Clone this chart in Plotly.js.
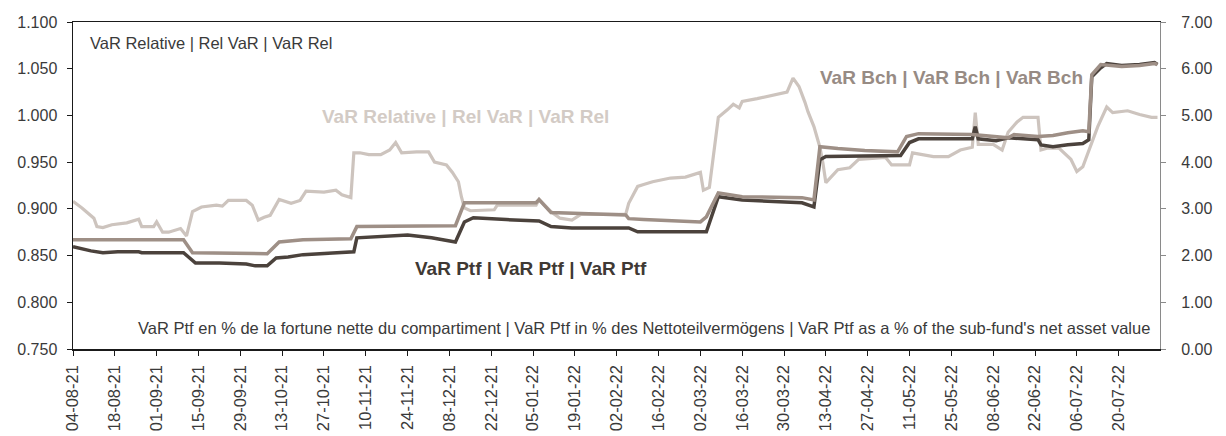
<!DOCTYPE html>
<html>
<head>
<meta charset="utf-8">
<script src="https://cdn.plot.ly/plotly-3.0.1.min.js"></script>
<style>
html,body{margin:0;padding:0;background:#fff;}
#chart{width:1226px;height:436px;}
</style>
</head>
<body>
<div id="chart"></div>
<script>
// VaR Relative (left axis)
const relDates = ["2021-08-04","2021-08-07","2021-08-11","2021-08-12","2021-08-14","2021-08-17","2021-08-22","2021-08-26","2021-08-27","2021-08-31","2021-09-01","2021-09-03","2021-09-05","2021-09-09","2021-09-11","2021-09-13","2021-09-16","2021-09-21","2021-09-23","2021-09-25","2021-10-01","2021-10-03","2021-10-05","2021-10-07","2021-10-09","2021-10-12","2021-10-16","2021-10-19","2021-10-21","2021-10-27","2021-10-31","2021-11-02","2021-11-05","2021-11-06","2021-11-08","2021-11-11","2021-11-15","2021-11-18","2021-11-20","2021-11-22","2021-11-27","2021-12-01","2021-12-03","2021-12-07","2021-12-09","2021-12-11","2021-12-12","2021-12-13","2021-12-15","2021-12-23","2021-12-24","2022-01-06","2022-01-07","2022-01-11","2022-01-14","2022-01-18","2022-01-21","2022-02-05","2022-02-06","2022-02-09","2022-02-11","2022-02-14","2022-02-20","2022-02-25","2022-03-02","2022-03-03","2022-03-05","2022-03-08","2022-03-11","2022-03-13","2022-03-15","2022-03-16","2022-03-21","2022-03-24","2022-03-29","2022-03-31","2022-04-02","2022-04-04","2022-04-06","2022-04-07","2022-04-09","2022-04-11","2022-04-12","2022-04-13","2022-04-17","2022-04-21","2022-04-24","2022-05-03","2022-05-05","2022-05-11","2022-05-12","2022-05-19","2022-05-24","2022-05-28","2022-06-01","2022-06-02","2022-06-03","2022-06-08","2022-06-11","2022-06-13","2022-06-16","2022-06-18","2022-06-23","2022-06-24","2022-06-26","2022-06-30","2022-07-04","2022-07-06","2022-07-08","2022-07-10","2022-07-13","2022-07-16","2022-07-18","2022-07-23","2022-07-27","2022-07-31","2022-08-02"];
const relValues = [0.908,0.901,0.890,0.881,0.880,0.883,0.885,0.889,0.881,0.881,0.886,0.875,0.875,0.879,0.871,0.897,0.902,0.904,0.903,0.909,0.909,0.904,0.888,0.891,0.893,0.910,0.906,0.909,0.919,0.918,0.920,0.915,0.912,0.960,0.960,0.958,0.958,0.963,0.971,0.960,0.961,0.961,0.950,0.947,0.939,0.929,0.913,0.901,0.898,0.899,0.904,0.904,0.910,0.897,0.890,0.888,0.894,0.894,0.906,0.924,0.926,0.929,0.933,0.934,0.939,0.920,0.923,0.998,1.006,1.012,1.008,1.015,1.018,1.020,1.024,1.025,1.040,1.031,1.014,1.004,0.988,0.966,0.949,0.928,0.942,0.944,0.953,0.955,0.947,0.947,0.960,0.956,0.956,0.963,0.966,1.003,0.969,0.969,0.963,0.982,0.993,0.998,0.998,0.963,0.965,0.965,0.953,0.940,0.945,0.963,0.988,1.009,1.003,1.005,1.001,0.998,0.998];

// VaR Ptf (right axis, %)
const ptfDates = ["2021-08-04","2021-08-10","2021-08-14","2021-08-19","2021-08-26","2021-08-27","2021-09-10","2021-09-14","2021-09-22","2021-10-01","2021-10-04","2021-10-08","2021-10-11","2021-10-15","2021-10-20","2021-11-05","2021-11-06","2021-11-07","2021-11-13","2021-11-24","2021-12-02","2021-12-10","2021-12-13","2021-12-16","2021-12-27","2022-01-07","2022-01-11","2022-01-18","2022-02-06","2022-02-09","2022-03-04","2022-03-08","2022-03-16","2022-03-28","2022-04-05","2022-04-09","2022-04-11","2022-04-13","2022-05-08","2022-05-11","2022-05-14","2022-06-01","2022-06-02","2022-06-03","2022-06-09","2022-06-13","2022-06-23","2022-06-24","2022-06-28","2022-07-03","2022-07-08","2022-07-10","2022-07-11","2022-07-14","2022-07-16","2022-07-21","2022-07-27","2022-08-01","2022-08-02"];
const ptfValues = [2.19,2.10,2.06,2.08,2.08,2.06,2.06,1.84,1.84,1.82,1.78,1.78,1.95,1.97,2.02,2.06,2.08,2.38,2.40,2.44,2.38,2.29,2.72,2.81,2.77,2.74,2.62,2.59,2.59,2.51,2.51,3.26,3.19,3.15,3.13,3.04,4.05,4.12,4.14,4.42,4.50,4.50,4.76,4.50,4.46,4.52,4.48,4.37,4.33,4.37,4.40,4.48,5.83,6.02,6.11,6.07,6.09,6.13,6.09];

// VaR Bch (right axis, %)
const bchDates = ["2021-08-04","2021-09-10","2021-09-13","2021-10-08","2021-10-12","2021-10-20","2021-11-05","2021-11-07","2021-12-10","2021-12-13","2022-01-06","2022-01-07","2022-01-11","2022-02-03","2022-02-05","2022-02-06","2022-02-11","2022-03-02","2022-03-04","2022-03-08","2022-03-16","2022-04-05","2022-04-09","2022-04-11","2022-04-17","2022-04-26","2022-05-07","2022-05-10","2022-05-14","2022-06-01","2022-06-09","2022-06-13","2022-06-15","2022-06-23","2022-06-28","2022-07-03","2022-07-08","2022-07-10","2022-07-11","2022-07-14","2022-07-21","2022-07-27","2022-08-01","2022-08-02"];
const bchValues = [2.34,2.34,2.06,2.04,2.29,2.34,2.36,2.62,2.64,3.13,3.13,3.20,2.92,2.87,2.87,2.79,2.77,2.72,2.83,3.34,3.26,3.24,3.19,4.33,4.29,4.25,4.22,4.55,4.61,4.59,4.55,4.52,4.59,4.55,4.57,4.63,4.67,4.65,5.87,6.09,6.05,6.07,6.11,6.09];

const leftTicks = [0.75,0.80,0.85,0.90,0.95,1.00,1.05,1.10];
const rightTicks = [0,1,2,3,4,5,6,7];

const labelRel = "VaR Relative | Rel VaR | VaR Rel";
const labelBch = "VaR Bch | VaR Bch | VaR Bch";
const labelPtf = "VaR Ptf | VaR Ptf | VaR Ptf";
const labelNote = "VaR Ptf en % de la fortune nette du compartiment | VaR Ptf in % des Nettoteilvermögens | VaR Ptf as a % of the sub-fund's net asset value";

const FONT = "Liberation Sans, Arial, sans-serif";
const xRange = ["2021-08-04", "2022-08-02 20:00"];
const DAY = 86400000;

const traces = [
  {x: relDates, y: relValues, type: "scatter", mode: "lines", yaxis: "y",
   line: {color: "#cdc4be", width: 3.2}, hoverinfo: "skip"},
  {x: ptfDates, y: ptfValues, type: "scatter", mode: "lines", yaxis: "y2",
   line: {color: "#4b423c", width: 3.5}, hoverinfo: "skip"},
  {x: bchDates, y: bchValues, type: "scatter", mode: "lines", yaxis: "y2",
   line: {color: "#9e8f86", width: 3.5}, hoverinfo: "skip"}
];

const layout = {
  width: 1226, height: 436,
  margin: {l: 73, r: 66, t: 22, b: 87, pad: 0},
  paper_bgcolor: "#ffffff", plot_bgcolor: "#ffffff",
  showlegend: false,
  font: {family: FONT, size: 16, color: "#3a3a3a"},
  xaxis: {
    type: "date", range: xRange, tick0: "2021-08-04", dtick: 14 * DAY,
    tickformat: "%d-%m-%y", tickangle: -90,
    showgrid: false, zeroline: false,
    showline: true, linecolor: "#1a1a1a", linewidth: 1.5, mirror: true,
    ticks: "outside", ticklen: 5, tickcolor: "#1a1a1a", tickwidth: 1,
    ticklabelstandoff: 3,
    tickfont: {family: FONT, size: 16.5, color: "#3a3a3a"}
  },
  xaxis2: {
    type: "date", range: xRange, tick0: "2021-08-04", dtick: 14 * DAY,
    overlaying: "x", anchor: "y", showticklabels: false,
    showgrid: false, zeroline: false, showline: false,
    ticks: "inside", ticklen: 5, tickcolor: "#1a1a1a", tickwidth: 1
  },
  yaxis: {
    range: [0.75, 1.10], tickvals: leftTicks, tickformat: ".3f",
    showgrid: false, zeroline: false,
    showline: true, linecolor: "#1a1a1a", linewidth: 1.5,
    ticks: "outside", ticklen: 5, tickcolor: "#1a1a1a", tickwidth: 1,
    ticklabelstandoff: 6,
    tickfont: {family: FONT, size: 16, color: "#3a3a3a"}
  },
  yaxis3: {
    range: [0.75, 1.10], tickvals: leftTicks, overlaying: "y", anchor: "x",
    showticklabels: false, showgrid: false, zeroline: false, showline: false,
    ticks: "inside", ticklen: 7, tickcolor: "#1a1a1a", tickwidth: 1
  },
  yaxis2: {
    range: [0, 7], tickvals: rightTicks, tickformat: ".2f",
    overlaying: "y", side: "right", anchor: "x",
    showgrid: false, zeroline: false,
    showline: true, linecolor: "#8a8a8a", linewidth: 1,
    ticks: "outside", ticklen: 5, tickcolor: "#8a8a8a", tickwidth: 1,
    ticklabelstandoff: 12,
    tickfont: {family: FONT, size: 16, color: "#3a3a3a"}
  },
  annotations: [
    {text: labelRel, xref: "paper", yref: "paper", x: 0.0138, y: 0.936,
     xanchor: "left", yanchor: "middle", showarrow: false,
     font: {family: FONT, size: 16.5, color: "#3a3a3a"}},
    {text: "<b>" + labelRel + "</b>", xref: "paper", yref: "paper", x: 0.2272, y: 0.7095,
     xanchor: "left", yanchor: "middle", showarrow: false,
     font: {family: FONT, size: 19, color: "#d3cbc5"}},
    {text: "<b>" + labelBch + "</b>", xref: "paper", yref: "paper", x: 0.6854, y: 0.8318,
     xanchor: "left", yanchor: "middle", showarrow: false,
     font: {family: FONT, size: 19, color: "#978b84"}},
    {text: "<b>" + labelPtf + "</b>", xref: "paper", yref: "paper", x: 0.3128, y: 0.2477,
     xanchor: "left", yanchor: "middle", showarrow: false,
     font: {family: FONT, size: 19, color: "#3f3934"}},
    {text: labelNote, xref: "paper", yref: "paper", x: 0.9926, y: 0.0642,
     xanchor: "right", yanchor: "middle", showarrow: false,
     font: {family: FONT, size: 16.5, color: "#3a3a3a"}}
  ]
};

Plotly.newPlot("chart", traces, layout, {staticPlot: true, displayModeBar: false});
</script>
</body>
</html>
